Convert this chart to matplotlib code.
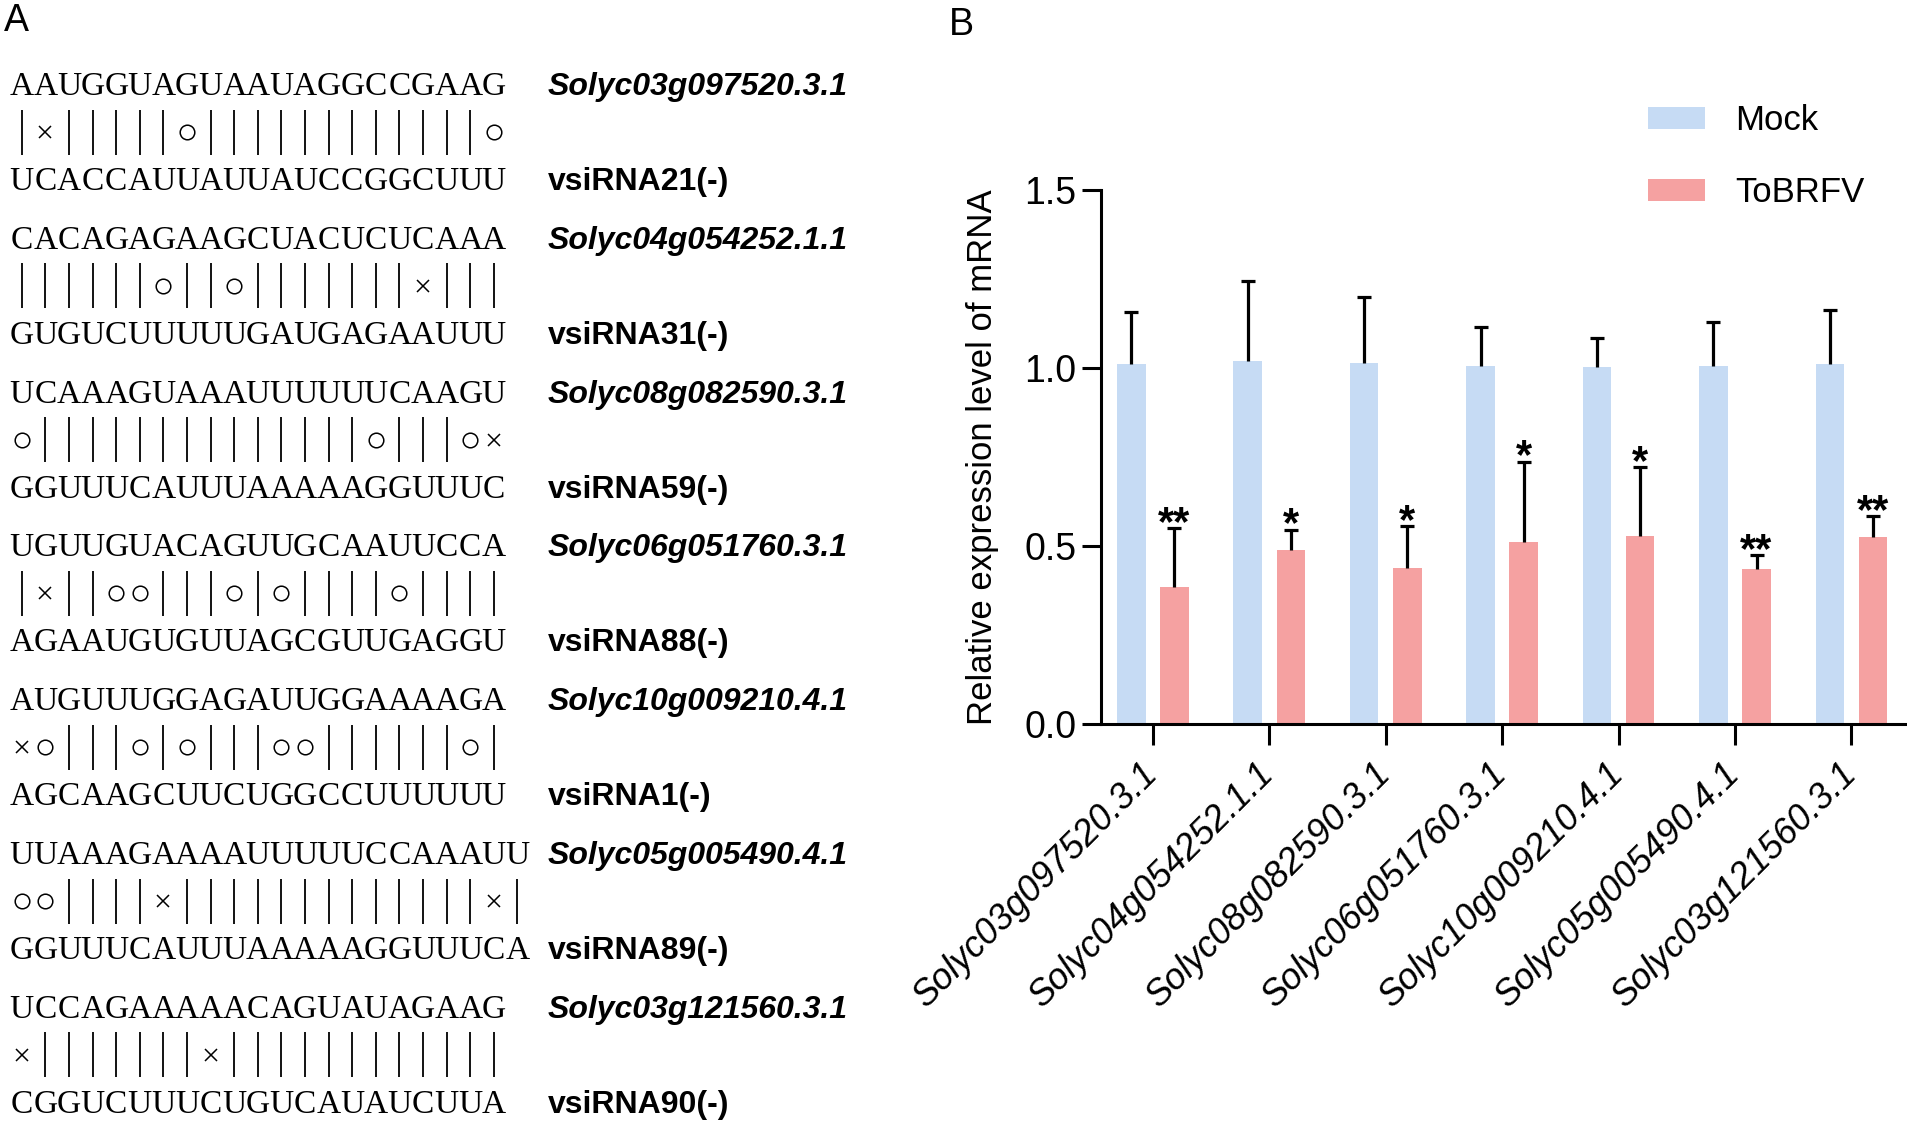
import numpy as np
import matplotlib
matplotlib.use("Agg")
import matplotlib.pyplot as plt
from matplotlib.ticker import FormatStrFormatter

plt.rcParams['font.family'] = ['Liberation Sans', 'DejaVu Sans']

# ---------------- data ----------------
genes = ["Solyc03g097520.3.1", "Solyc04g054252.1.1", "Solyc08g082590.3.1",
         "Solyc06g051760.3.1", "Solyc10g009210.4.1", "Solyc05g005490.4.1",
         "Solyc03g121560.3.1"]
vsirna_names = ["vsiRNA21(-)", "vsiRNA31(-)", "vsiRNA59(-)", "vsiRNA88(-)",
                "vsiRNA1(-)", "vsiRNA89(-)", "vsiRNA90(-)"]
target_seqs = ["AAUGGUAGUAAUAGGCCGAAG", "CACAGAGAAGCUACUCUCAAA",
               "UCAAAGUAAAUUUUUUCAAGU", "UGUUGUACAGUUGCAAUUCCA",
               "AUGUUUGGAGAUUGGAAAAGA", "UUAAAGAAAAUUUUUCCAAAUU",
               "UCCAGAAAAACAGUAUAGAAG"]
vsirna_seqs = ["UCACCAUUAUUAUCCGGCUUU", "GUGUCUUUUUGAUGAGAAUUU",
               "GGUUUCAUUUAAAAAGGUUUC", "AGAAUGUGUUAGCGUUGAGGU",
               "AGCAAGCUUCUGGCCUUUUUU", "GGUUUCAUUUAAAAAGGUUUCA",
               "CGGUCUUUCUGUCAUAUCUUA"]
match_rows = ["|x|||||o||||||||||||o", "||||||o||o|||||||x|||",
              "o||||||||||||||o|||ox", "|x||oo|||o|o||||o||||",
              "xo|||o|o|||oo||||||o|", "oo||||x|||||||||||||x|",
              "x|||||||x||||||||||||"]

series = ["Mock", "ToBRFV"]
mock_mean = [1.010, 1.020, 1.013, 1.006, 1.004, 1.006, 1.010]
mock_err = [0.148, 0.223, 0.186, 0.108, 0.079, 0.122, 0.152]
tobrfv_mean = [0.384, 0.490, 0.438, 0.510, 0.527, 0.436, 0.526]
tobrfv_err = [0.166, 0.056, 0.119, 0.227, 0.194, 0.039, 0.058]
signif = ["**", "*", "*", "*", "*", "**", "**"]
ytick_vals = [0.0, 0.5, 1.0, 1.5]

MOCK_C = "#C6DBF4"
TOB_C = "#F5A1A1"

W, H = 1907, 1121
fig = plt.figure(figsize=(W / 100, H / 100), dpi=100)

# ---------------- panel A (pixel-coordinate overlay) ----------------
axA = fig.add_axes([0, 0, 1, 1], zorder=-1)
axA.set_xlim(0, W)
axA.set_ylim(H, 0)
axA.axis('off')

x0, pitch = 10, 23.6
row_gap = 153.8
y_first = 84
serif = ['Liberation Serif', 'DejaVu Serif']
SEQ_FS = 24
for k in range(len(target_seqs)):
    yt = y_first + row_gap * k
    ym = yt + 48
    yb = yt + 95
    for i, ch in enumerate(target_seqs[k]):
        axA.text(x0 + pitch * (i + 0.5), yt + 11, ch, family=serif,
                 fontsize=SEQ_FS, ha='center', va='baseline')
    for i, ch in enumerate(vsirna_seqs[k]):
        axA.text(x0 + pitch * (i + 0.5), yb + 11, ch, family=serif,
                 fontsize=SEQ_FS, ha='center', va='baseline')
    row = match_rows[k]
    bar_x = [x0 + pitch * (i + 0.5) for i, c in enumerate(row) if c == '|']
    o_x = [x0 + pitch * (i + 0.5) for i, c in enumerate(row) if c == 'o']
    x_x = [x0 + pitch * (i + 0.5) for i, c in enumerate(row) if c == 'x']
    axA.vlines(bar_x, ym - 22.5, ym + 22.5, color='black', lw=1.3)
    axA.plot(o_x, [ym] * len(o_x), ls='none', marker='o', ms=10.5, mfc='none',
             mec='black', mew=1.1)
    axA.plot(x_x, [ym] * len(x_x), ls='none', marker='x', ms=9, mec='black',
             mew=1.1)
    axA.text(548, yt + 11, genes[k], fontsize=23, fontweight='bold',
             fontstyle='italic', ha='left', va='baseline')
    axA.text(548, yb + 11, vsirna_names[k], fontsize=23, fontweight='bold',
             ha='left', va='baseline')

fig.text(4 / W, 1 - 3 / H, "A", fontsize=27, ha='left', va='top')
fig.text(949 / W, 1 - 7 / H, "B", fontsize=27, ha='left', va='top')

# ---------------- panel B ----------------
left, bottom, top = 1101 / W, 1 - 724 / H, 1 - 190 / H
ax = fig.add_axes([left, bottom, 1 - left, top - bottom])
x = np.arange(len(genes))
off, bw = 0.185, 0.245
b1 = ax.bar(x - off, mock_mean, bw, color=MOCK_C, zorder=2, label=series[0])
b2 = ax.bar(x + off, tobrfv_mean, bw, color=TOB_C, zorder=2, label=series[1])

for xs, m, e in ((x - off, mock_mean, mock_err), (x + off, tobrfv_mean, tobrfv_err)):
    m = np.asarray(m); e = np.asarray(e)
    ax.vlines(xs, m, m + e, color='black', lw=2.3, zorder=3)
    ax.plot(xs, m + e, ls='none', marker='_', ms=10.5, mew=2.3, color='black', zorder=3)

for xi, m, e, s in zip(x + off, tobrfv_mean, tobrfv_err, signif):
    ax.annotate(s, xy=(xi, m + e), xytext=(0, -5), textcoords='offset points',
                ha='center', va='baseline', fontsize=30, fontweight='bold')

ax.set_xlim(-0.445, 6.477)
ax.set_ylim(0, 1.5)
ax.set_yticks(ytick_vals)
ax.yaxis.set_major_formatter(FormatStrFormatter('%.1f'))
ax.set_xticks(x)
ax.set_xticklabels(genes, rotation=45, ha='right', va='center',
                   rotation_mode='anchor', fontstyle='italic', fontsize=26)
for sp in ('top', 'right'):
    ax.spines[sp].set_visible(False)
for sp in ('left', 'bottom'):
    ax.spines[sp].set_linewidth(2.2)
ax.tick_params(axis='y', length=13.5, width=2.2, labelsize=27, pad=4)
ax.tick_params(axis='x', length=15, width=2.2, pad=17)

fig.text(982 / W, 1 - 457 / H, "Relative expression level of mRNA",
         rotation=90, ha='center', va='center', fontsize=25)

ax.legend(handles=[b1, b2], labels=series, loc='upper left',
          bbox_to_anchor=(1648 / W, 1 - 104 / H), bbox_transform=fig.transFigure,
          frameon=False, fontsize=25, borderpad=0, borderaxespad=0,
          handlelength=1.65, handleheight=0.6, handletextpad=0.85,
          labelspacing=1.13)

fig.savefig("out.png", dpi=100)
